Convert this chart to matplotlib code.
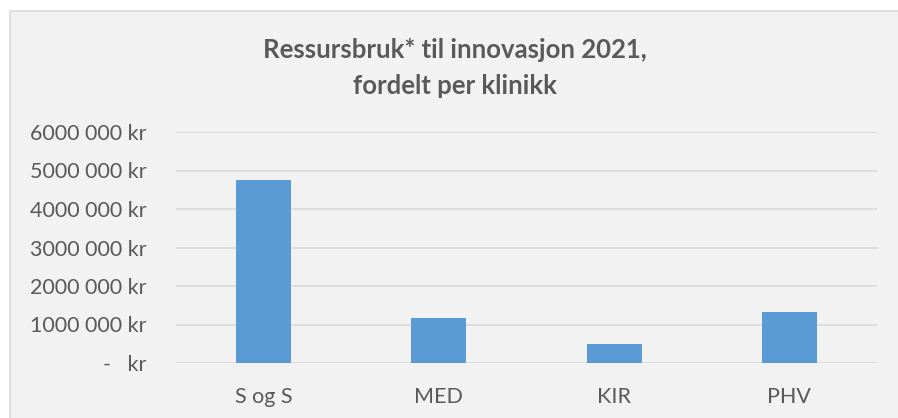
import matplotlib
matplotlib.use("Agg")
import matplotlib.pyplot as plt
from matplotlib.patches import Rectangle
from matplotlib.ticker import FuncFormatter, MultipleLocator

# ============================================================
# Data
# ============================================================

CLINICS = ["S og S", "MED", "KIR", "PHV"]
RESOURCE_KR = [4750000, 1180000, 490000, 1330000]

TITLE = "Ressursbruk* til innovasjon 2021,\nfordelt per klinikk"

BAR_COLOR = "#5B9BD5"
TEXT_COLOR = "#595959"
GRID_COLOR = "#D9D9D9"
BG_COLOR = "#F2F2F2"

plt.rcParams["font.family"] = ["Lato", "DejaVu Sans"]


def kr_fmt(v, _pos):
    if v == 0:
        return "-   kr"
    return f"{int(v // 1000)} 000 kr"


fig = plt.figure(figsize=(8.98, 4.18), dpi=100)
fig.patch.set_facecolor("white")

# chart area panel (Excel style), border on top/left only visible
fig.patches.append(Rectangle((9.5 / 898, -0.05), 1.1, (418 - 10.5) / 418 + 0.05,
                             transform=fig.transFigure, facecolor=BG_COLOR,
                             edgecolor=GRID_COLOR, linewidth=1.2, zorder=-10))

ax = fig.add_axes([176 / 898, (418 - 363) / 418, (877 - 176) / 898, (363 - 132) / 418])
ax.set_facecolor("none")

x = range(len(CLINICS))
ax.bar(x, RESOURCE_KR, width=0.314, color=BAR_COLOR, zorder=3)

ax.set_xlim(-0.5, len(CLINICS) - 0.5)
ax.set_ylim(0, 6000000)
ax.yaxis.set_major_locator(MultipleLocator(1000000))
ax.yaxis.set_major_formatter(FuncFormatter(kr_fmt))
ax.set_xticks(list(x))
ax.set_xticklabels(CLINICS)

ax.grid(axis="y", color=GRID_COLOR, linewidth=1.2, zorder=1)
for s in ax.spines.values():
    s.set_visible(False)
ax.tick_params(axis="both", length=0, labelsize=15.5, labelcolor=TEXT_COLOR)
ax.tick_params(axis="y", pad=21)
ax.tick_params(axis="x", pad=17)

fig.text(455 / 898, 1 - 68 / 418, TITLE, ha="center", va="center",
         fontsize=18.5, fontweight="bold", color=TEXT_COLOR, linespacing=1.55)

fig.savefig("out.png", dpi=100)
